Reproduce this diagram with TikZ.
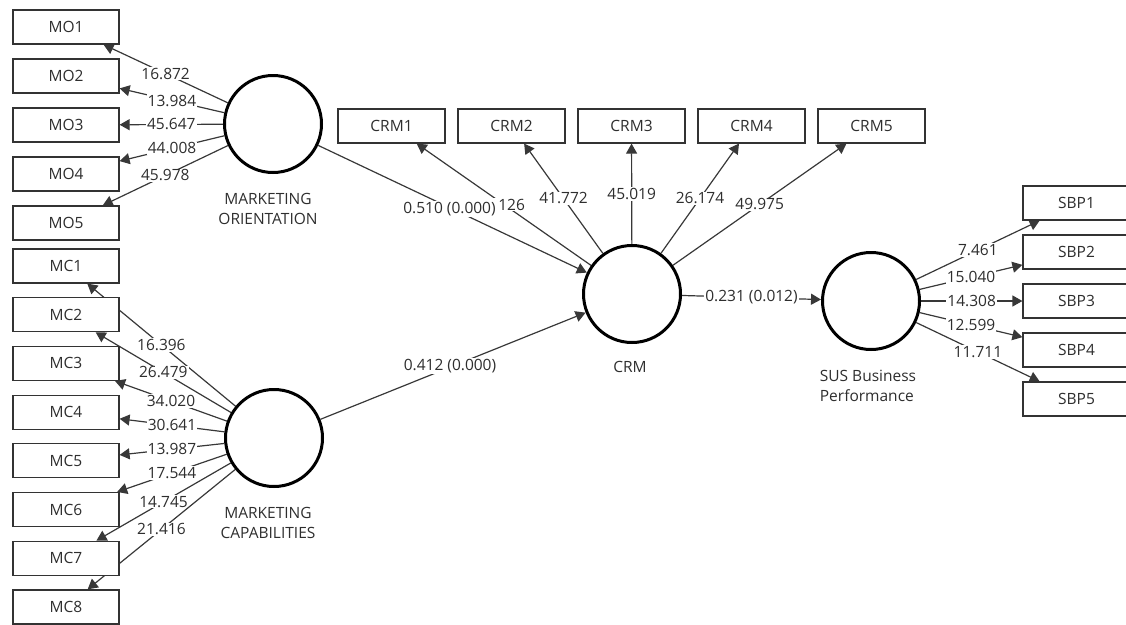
\documentclass[tikz,border=0pt]{standalone}
\usepackage{fontspec}
\setmainfont{Open Sans}
\usetikzlibrary{arrows.meta,backgrounds}
\begin{document}
\begin{tikzpicture}[x=1pt,y=-1pt,
  every node/.style={font=\fontsize{15.5}{20}\selectfont, text=black!82},
  ind/.style={draw=black!80, line width=1.2pt, fill=white, minimum width=106pt,
              minimum height=34pt, inner sep=0pt},
  lat/.style={circle, draw=black, line width=3pt, fill=white, minimum size=97pt, inner sep=0pt},
  link/.style={draw=black!78, line width=1.2pt, -{Triangle[length=10pt,width=11pt]}},
  val/.style={fill=white, inner sep=1pt},
]
\useasboundingbox (0,0) rectangle (1126,624);
\clip (0,0) rectangle (1126,624);

% latent variables
\node[lat] (MO)  at (273,124) {};
\node[lat] (MC)  at (274,438) {};
\node[lat] (CRM) at (632,294) {};
\node[lat] (SUS) at (871,301) {};

\node[align=center] (MOlab)  at (268,209) {MARKETING\\ORIENTATION};
\node[align=center] (MClab)  at (268,523) {MARKETING\\CAPABILITIES};
\node (CRMlab) at (630,367) {CRM};
\node[align=left] (SUSlab) at (868,386) {SUS Business\\Performance};

% indicators
\foreach \i in {1,...,5}
  \node[ind] (MO\i) at (66,{27+49*(\i-1)}) {MO\i};
\foreach \i in {1,...,8}
  \node[ind] (MC\i) at (66,{266+48.7*(\i-1)}) {MC\i};
\foreach \i in {1,...,5}
  \node[ind, minimum width=107pt] (CRM\i) at ({391.5+120*(\i-1)},126) {CRM\i};
\foreach \i in {1,...,5}
  \node[ind, minimum width=107pt] (SBP\i) at (1076.5,{203+49*(\i-1)}) {SBP\i};

\begin{pgfonlayer}{background}
  % outer model: Marketing Orientation
  \draw[link] (MO) -- (MO1) node[val,midway] {16.872};
  \draw[link] (MO) -- (MO2) node[val,midway] {13.984};
  \draw[link] (MO) -- (MO3) node[val,midway] {45.647};
  \draw[link] (MO) -- (MO4) node[val,midway] {44.008};
  \draw[link] (MO) -- (MO5) node[val,midway] {45.978};
  % outer model: Marketing Capabilities
  \draw[link] (MC) -- (MC1) node[val,midway] {16.396};
  \draw[link] (MC) -- (MC2) node[val,midway] {26.479};
  \draw[link] (MC) -- (MC3) node[val,midway] {34.020};
  \draw[link] (MC) -- (MC4) node[val,midway] {30.641};
  \draw[link] (MC) -- (MC5) node[val,midway] {13.987};
  \draw[link] (MC) -- (MC6) node[val,midway] {17.544};
  \draw[link] (MC) -- (MC7) node[val,midway] {14.745};
  \draw[link] (MC) -- (MC8) node[val,midway] {21.416};
  % outer model: CRM
  \draw[link] (CRM) -- (CRM1) node[val,midway,xshift=3pt,text width=36pt,align=right] {126};
  \draw[link] (CRM) -- (CRM2) node[val,midway] {41.772};
  \draw[link] (CRM) -- (CRM3) node[val,midway] {45.019};
  \draw[link] (CRM) -- (CRM4) node[val,midway] {26.174};
  \draw[link] (CRM) -- (CRM5) node[val,midway] {49.975};
  % outer model: SUS Business Performance
  \draw[link] (SUS) -- (SBP1) node[val,midway] {7.461};
  \draw[link] (SUS) -- (SBP2) node[val,midway] {15.040};
  \draw[link] (SUS) -- (SBP3) node[val,midway] {14.308};
  \draw[link] (SUS) -- (SBP4) node[val,midway] {12.599};
  \draw[link] (SUS) -- (SBP5) node[val,midway] {11.711};
  % inner model
  \draw[link] (MO)  -- (CRM) node[val,midway,xshift=-3pt] {0.510 (0.000)};
  \draw[link] (MC)  -- (CRM) node[val,midway,xshift=-3pt] {0.412 (0.000)};
  \draw[link] (CRM) -- (SUS) node[val,midway] {0.231 (0.012)};
\end{pgfonlayer}
\end{tikzpicture}
\end{document}
